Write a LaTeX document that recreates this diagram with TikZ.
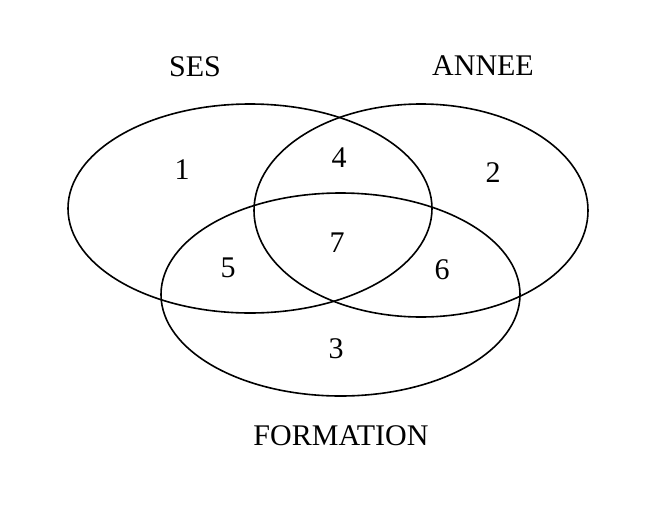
\documentclass[tikz,border=0pt]{standalone}
\usepackage{fontspec}
\setmainfont{Liberation Serif}
\begin{document}
\begin{tikzpicture}[x=1pt,y=-1pt,
  setline/.style={draw=black,line width=1.6pt},
  lbl/.style={font=\fontsize{30}{33}\selectfont,inner sep=0pt,anchor=center}]
\useasboundingbox[fill=white] (0,0) rectangle (656,520);
\draw[setline] (250,208.5) ellipse [x radius=182, y radius=104.5];
\draw[setline] (421,210.5) ellipse [x radius=167, y radius=106.5];
\draw[setline] (340.5,294.5) ellipse [x radius=179.5, y radius=101.5];
\node[lbl] (ses) at (195,67) {SES};
\node[lbl] (annee) at (483,66) {ANNEE};
\node[lbl] (formation) at (341,436) {FORMATION};
\node[lbl] (n1) at (182,170) {1};
\node[lbl] (n4) at (339,158) {4};
\node[lbl] (n2) at (493,173) {2};
\node[lbl] (n7) at (337,243) {7};
\node[lbl] (n5) at (228,268) {5};
\node[lbl] (n6) at (442,270) {6};
\node[lbl] (n3) at (336,349) {3};
\end{tikzpicture}
\end{document}
